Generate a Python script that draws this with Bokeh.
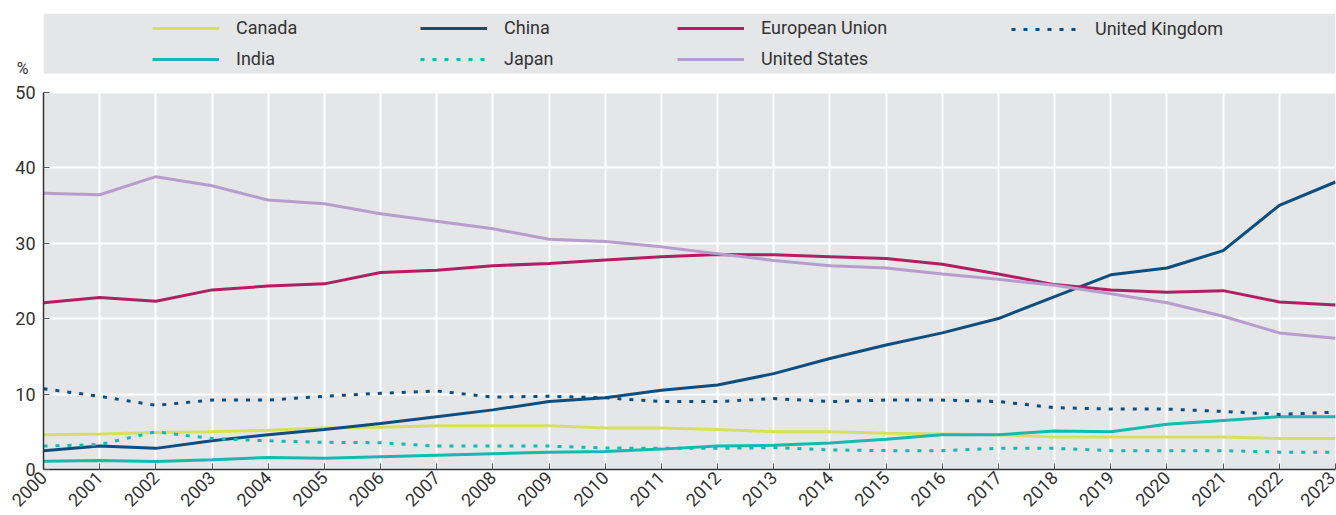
import math
from bokeh.plotting import figure
from bokeh.models import Legend, LegendItem, BoxAnnotation, Label, FixedTicker
from bokeh.embed import file_html
from bokeh.resources import INLINE

years = list(range(2000, 2024))
canada = [4.6, 4.7, 4.9, 5.0, 5.2, 5.5, 5.6, 5.8, 5.8, 5.8, 5.5, 5.5, 5.3, 5.0, 5.0, 4.8, 4.7, 4.6, 4.3, 4.3, 4.3, 4.3, 4.1, 4.1]
china = [2.5, 3.1, 2.8, 3.8, 4.6, 5.3, 6.1, 7.0, 7.9, 9.0, 9.5, 10.5, 11.2, 12.7, 14.7, 16.5, 18.1, 20.0, 22.9, 25.8, 26.7, 29.0, 35.0, 38.1]
eu = [22.1, 22.8, 22.3, 23.8, 24.3, 24.6, 26.1, 26.4, 27.0, 27.3, 27.75, 28.2, 28.5, 28.45, 28.2, 27.95, 27.2, 25.9, 24.5, 23.8, 23.5, 23.7, 22.2, 21.8]
uk = [10.7, 9.7, 8.5, 9.2, 9.2, 9.7, 10.1, 10.4, 9.6, 9.7, 9.5, 9.0, 9.0, 9.4, 9.0, 9.2, 9.2, 9.0, 8.2, 8.0, 8.0, 7.7, 7.3, 7.6]
india = [1.1, 1.2, 1.05, 1.3, 1.6, 1.5, 1.7, 1.9, 2.1, 2.3, 2.4, 2.7, 3.1, 3.2, 3.5, 4.0, 4.6, 4.6, 5.1, 5.0, 6.0, 6.5, 7.0, 7.0]
japan = [3.1, 3.3, 5.0, 4.1, 3.8, 3.6, 3.55, 3.1, 3.1, 3.1, 2.85, 2.8, 2.8, 2.9, 2.6, 2.5, 2.5, 2.8, 2.8, 2.5, 2.5, 2.5, 2.3, 2.3]
us = [36.6, 36.4, 38.8, 37.6, 35.7, 35.2, 33.9, 32.9, 31.9, 30.5, 30.2, 29.5, 28.6, 27.7, 27.0, 26.7, 25.9, 25.2, 24.4, 23.3, 22.1, 20.3, 18.1, 17.4]
y_ticks = [0, 10, 20, 30, 40, 50]

FONT = "Roboto"
TXT = "#333333"
BG = "#e5e6e8"

W, H = 1336, 515
FRAME_LEFT = 43
FRAME_TOP, PLOT_TOP, FRAME_BOTTOM = 13, 92, 471   # canvas px
Y_MAX = 50
# extend the y-range so the legend band sits inside the frame, above the plot area
y_end = Y_MAX * (FRAME_BOTTOM - FRAME_TOP) / (FRAME_BOTTOM - PLOT_TOP)

p = figure(width=W, height=H, output_backend="svg", toolbar_location=None,
           x_range=(years[0], years[-1]), y_range=(0, y_end),
           min_border_left=FRAME_LEFT, min_border_right=1,
           min_border_top=FRAME_TOP, min_border_bottom=H - FRAME_BOTTOM)
p.background_fill_color = "white"
p.border_fill_color = "white"
p.outline_line_color = None

# grey plot area
p.add_layout(BoxAnnotation(left=years[0], right=years[-1], bottom=0, top=Y_MAX,
                           fill_color=BG, fill_alpha=1, line_color=None, level="image"))

p.xgrid.grid_line_color = "white"
p.ygrid.grid_line_color = "white"
p.xgrid.grid_line_width = 2
p.ygrid.grid_line_width = 2

p.xaxis.ticker = FixedTicker(ticks=years)
p.yaxis.ticker = FixedTicker(ticks=y_ticks)
p.ygrid.ticker = FixedTicker(ticks=y_ticks)
p.yaxis.bounds = (0, Y_MAX)
for ax in (p.xaxis, p.yaxis):
    ax.axis_line_color = "#333333"
    ax.axis_line_width = 1.5
    ax.major_tick_line_color = "#555555"
    ax.major_tick_in = 6
    ax.major_tick_out = 0
    ax.minor_tick_line_color = None
    ax.major_label_text_font = FONT
    ax.major_label_text_font_size = "18px"
    ax.major_label_text_color = TXT
p.xaxis.major_label_orientation = math.pi / 4
p.xaxis.major_label_standoff = 5
p.yaxis.major_label_standoff = 8

series = [
    ("Canada", canada, "#d5e063", None),
    ("India", india, "#14b9b0", None),
    ("China", china, "#0b4e7f", None),
    ("Japan", japan, "#14b9b0", "4 8"),
    ("European Union", eu, "#b01e63", None),
    ("United States", us, "#b79dcd", None),
    ("United Kingdom", uk, "#0b4e7f", "4 8"),
]
renderers = {}
for name, vals, color, dash in series:
    kw = dict(line_color=color, line_width=3)
    if dash:
        kw["line_dash"] = dash
    renderers[name] = p.line(years, vals, **kw)

# legend background band (covers the grid lines above the plot area)
p.add_layout(BoxAnnotation(top=FRAME_TOP, bottom=73, top_units="canvas", bottom_units="canvas",
                           fill_color=BG, fill_alpha=1, line_color=None, level="guide"))

LEG_TOP = 21
columns = [
    (["Canada", "India"], 152),
    (["China", "Japan"], 420),
    (["European Union", "United States"], 677),
    (["United Kingdom"], 1011),
]
for names, x in columns:
    leg_h = 20 * len(names) + 10 * (len(names) - 1)
    lg = Legend(items=[LegendItem(label=n, renderers=[renderers[n]]) for n in names],
                location=(x - FRAME_LEFT, FRAME_BOTTOM - LEG_TOP - leg_h),
                orientation="vertical", padding=0, margin=0, spacing=10,
                glyph_width=67, glyph_height=20, label_height=20, label_standoff=17,
                background_fill_alpha=0, border_line_alpha=0,
                label_text_font=FONT, label_text_font_size="18px", label_text_color=TXT)
    p.add_layout(lg)

pct = Label(x=22, y=68, x_units="canvas", y_units="canvas", text="%",
            text_font=FONT, text_font_size="16px", text_color=TXT,
            text_align="center", text_baseline="middle")
p.add_layout(pct, "left")

open("out.html", "w").write(file_html(p, INLINE))
